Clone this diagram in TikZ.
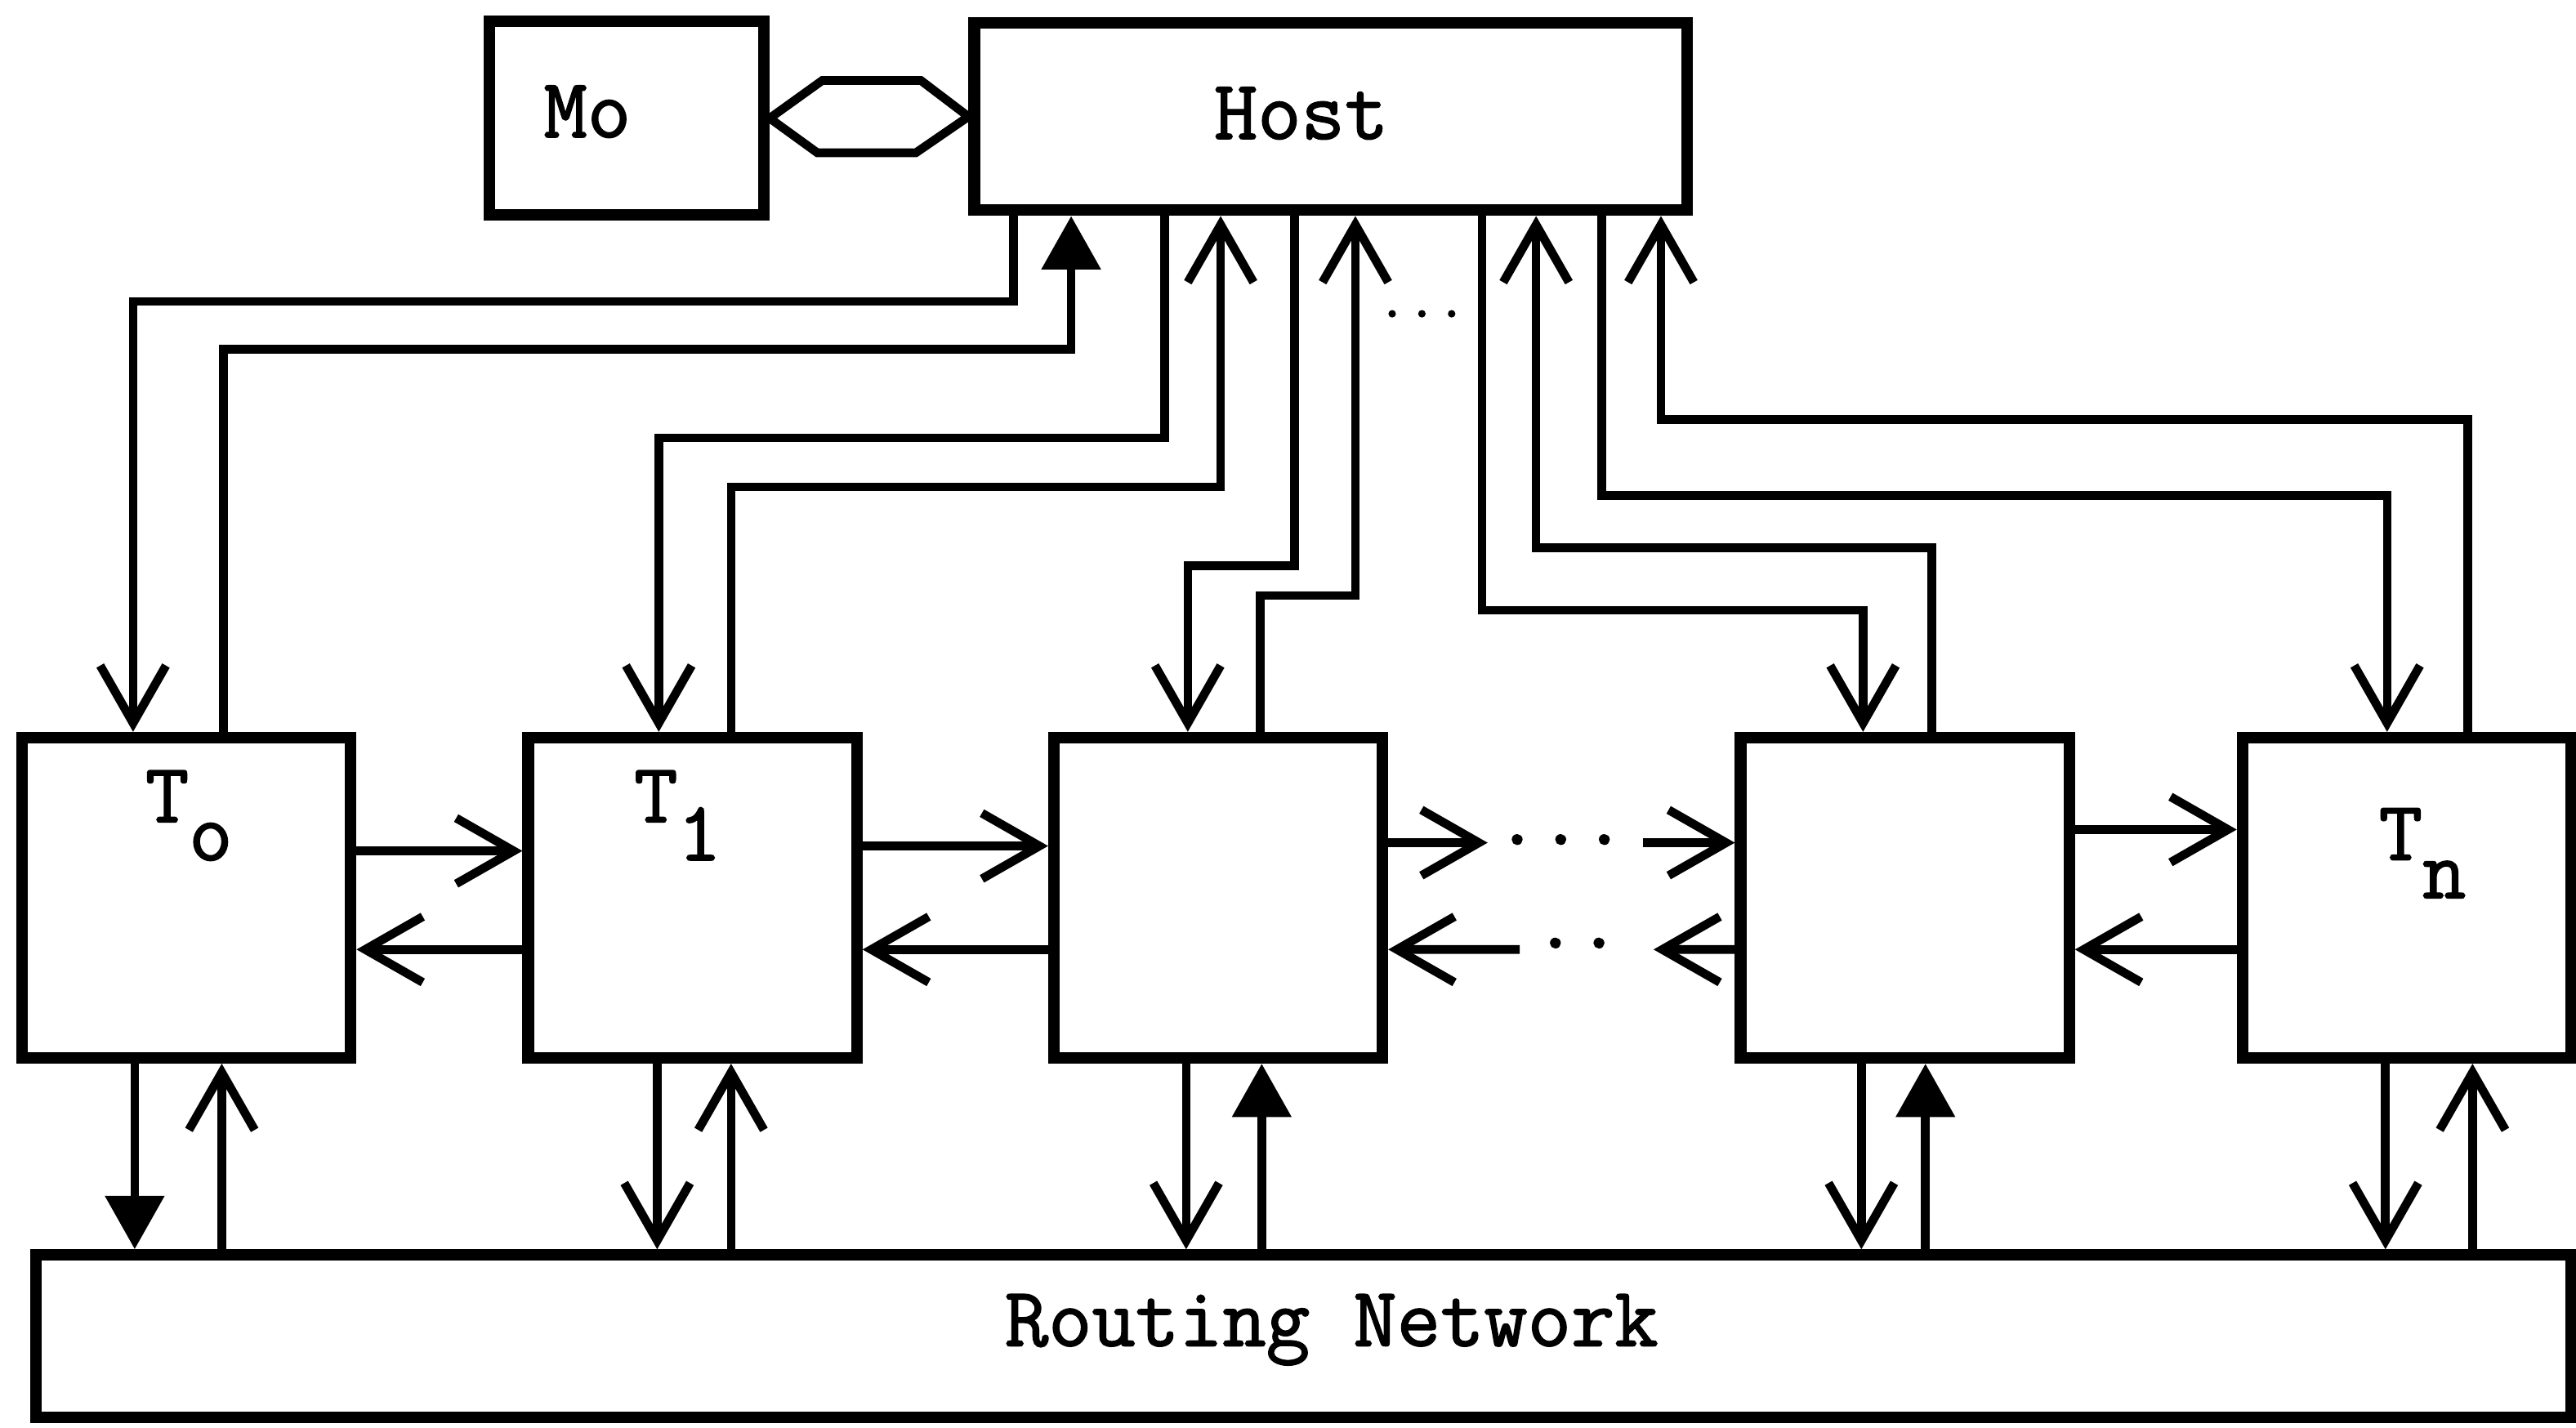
\documentclass[tikz,border=0pt]{standalone}
\usepackage{fontspec}
\newfontfamily\typewriter{Latin Modern Mono}[RawFeature={embolden=1.6}]
\usepackage{tikz}
\usetikzlibrary{arrows.meta}
\newcommand{\tilelabel}[1]{T\raisebox{-0.45em}{#1}}

\begin{document}
\begin{tikzpicture}[
  >={Straight Barb[length=7mm, width=8mm]},
  flow/.style={->, line width=3pt},
  heavy/.style={-{Triangle[length=6.5mm, width=7mm]}, line width=3pt},
  bus/.style={line width=3pt, line join=miter},
  block/.style={draw, line width=4pt},
  unit/.style={draw, line width=4pt, minimum width=4cm, minimum height=3.9cm},
  tag/.style={anchor=base},
  every node/.style={font=\typewriter\fontsize{29.3pt}{34pt}\selectfont}
]
  \fill[white] (0,0) rectangle (31.36,17.38);
  \useasboundingbox (0,0) rectangle (31.36,17.38);

  \node[block, minimum width=3.34cm, minimum height=2.36cm] (mo) at (7.63,15.94) {};
  \node (moName) at ([xshift=-0.48cm,yshift=0.08cm]mo.center) {Mo};
  \node[block, minimum width=8.68cm, minimum height=2.28cm] (host) at (16.20,15.96) {};
  \node (hostName) at ([xshift=-0.36cm,yshift=0.04cm]host.center) {Host};
  \node[unit] (t0) at ( 2.27,6.45) {};
  \node[unit] (t1) at ( 8.43,6.45) {};
  \node[unit] (t2) at (14.83,6.45) {};
  \node[unit] (t3) at (23.19,6.45) {};
  \node[unit] (tn) at (29.30,6.45) {};
  \node[block, minimum width=30.86cm, minimum height=1.98cm] (routing) at (15.87,1.11) {};
  \node (routingName) at ([xshift=0.34cm,yshift=0.08cm]routing.center) {Routing Network};

  \node[tag] (t0name) at ([xshift=0.03cm,yshift=-1.10cm]t0.north) {\tilelabel{o}};
  \node[tag] (t1name) at ([xshift=-0.18cm,yshift=-1.10cm]t1.north) {\tilelabel{1}};
  \node[tag] (tnname) at ([xshift=0.19cm,yshift=-1.56cm]tn.north) {\tilelabel{n}};

  % Mo <-> Host
  \draw[bus] (mo.east) -- ++(0.64,0.46) -- ++(1.20,0) -- (host.west)
    -- ++(-0.64,-0.44) -- ++(-1.20,0) -- cycle;

  % host lines
  \draw[flow]  ([xshift=-3.86cm]host.south) -- ++(0,-1.04) -| ([xshift=-0.65cm]t0.north);
  \draw[heavy] ([xshift=0.45cm]t0.north) -- ++(0,4.66) -| ([xshift=-3.16cm]host.south);
  \draw[flow]  ([xshift=-2.02cm]host.south) -- ++(0,-2.70) -| ([xshift=-0.41cm]t1.north);
  \draw[flow]  ([xshift=0.47cm]t1.north) -- ++(0,2.98) -| ([xshift=-1.34cm]host.south);
  \draw[flow]  ([xshift=-0.44cm]host.south) -- ++(0,-4.26) -| ([xshift=-0.37cm]t2.north);
  \draw[flow]  ([xshift=0.51cm]t2.north) -- ++(0,1.66) -| ([xshift=0.30cm]host.south);
  \draw[flow]  ([xshift=1.84cm]host.south) -- ++(0,-4.80) -| ([xshift=-0.51cm]t3.north);
  \draw[flow]  ([xshift=0.33cm]t3.north) -- ++(0,2.24) -| ([xshift=2.50cm]host.south);
  \draw[flow]  ([xshift=3.30cm]host.south) -- ++(0,-3.40) -| ([xshift=-0.24cm]tn.north);
  \draw[flow]  ([xshift=0.74cm]tn.north) -- ++(0,3.80) -| ([xshift=4.02cm]host.south);
  \node[tag, font=\typewriter\fontsize{20pt}{22pt}\selectfont] (dotsHost) at (17.31,13.52) {...};

  % neighbour links
  \draw[flow] ([yshift=0.57cm]t0.east) -- ([yshift=0.57cm]t1.west);
  \draw[flow] ([yshift=-0.63cm]t1.west) -- ([yshift=-0.63cm]t0.east);
  \draw[flow] ([yshift=0.63cm]t1.east) -- ([yshift=0.63cm]t2.west);
  \draw[flow] ([yshift=-0.63cm]t2.west) -- ([yshift=-0.63cm]t1.east);
  \coordinate (gapA) at (18.11,7.12);
  \coordinate (gapB) at (20.00,7.12);
  \coordinate (gapC) at (20.13,5.82);
  \coordinate (gapD) at (18.50,5.82);
  \draw[flow] ([yshift=0.67cm]t2.east) -- (gapA);
  \draw[flow] (gapB) -- ([yshift=0.67cm]t3.west);
  \draw[flow] ([yshift=-0.63cm]t3.west) -- (gapC);
  \draw[flow] (gapD) -- ([yshift=-0.63cm]t2.east);
  \node[tag] (dotsUpper) at (19.00,7.10) {...};
  \node[tag] (dotsLower) at (19.20,5.84) {..};
  \draw[flow] ([yshift=0.83cm]t3.east) -- ([yshift=0.83cm]tn.west);
  \draw[flow] ([yshift=-0.63cm]tn.west) -- ([yshift=-0.63cm]t3.east);

  % routing network
  \draw[heavy] ([xshift=-0.63cm]t0.south) -- ([xshift=-0.63cm]t0.south |- routing.north);
  \draw[flow]  ([xshift=0.43cm]t0.south |- routing.north) -- ([xshift=0.43cm]t0.south);
  \draw[flow]  ([xshift=-0.43cm]t1.south) -- ([xshift=-0.43cm]t1.south |- routing.north);
  \draw[flow]  ([xshift=0.47cm]t1.south |- routing.north) -- ([xshift=0.47cm]t1.south);
  \draw[flow]  ([xshift=-0.39cm]t2.south) -- ([xshift=-0.39cm]t2.south |- routing.north);
  \draw[heavy] ([xshift=0.53cm]t2.south |- routing.north) -- ([xshift=0.53cm]t2.south);
  \draw[flow]  ([xshift=-0.53cm]t3.south) -- ([xshift=-0.53cm]t3.south |- routing.north);
  \draw[heavy] ([xshift=0.25cm]t3.south |- routing.north) -- ([xshift=0.25cm]t3.south);
  \draw[flow]  ([xshift=-0.26cm]tn.south) -- ([xshift=-0.26cm]tn.south |- routing.north);
  \draw[flow]  ([xshift=0.80cm]tn.south |- routing.north) -- ([xshift=0.80cm]tn.south);
\end{tikzpicture}
\end{document}
